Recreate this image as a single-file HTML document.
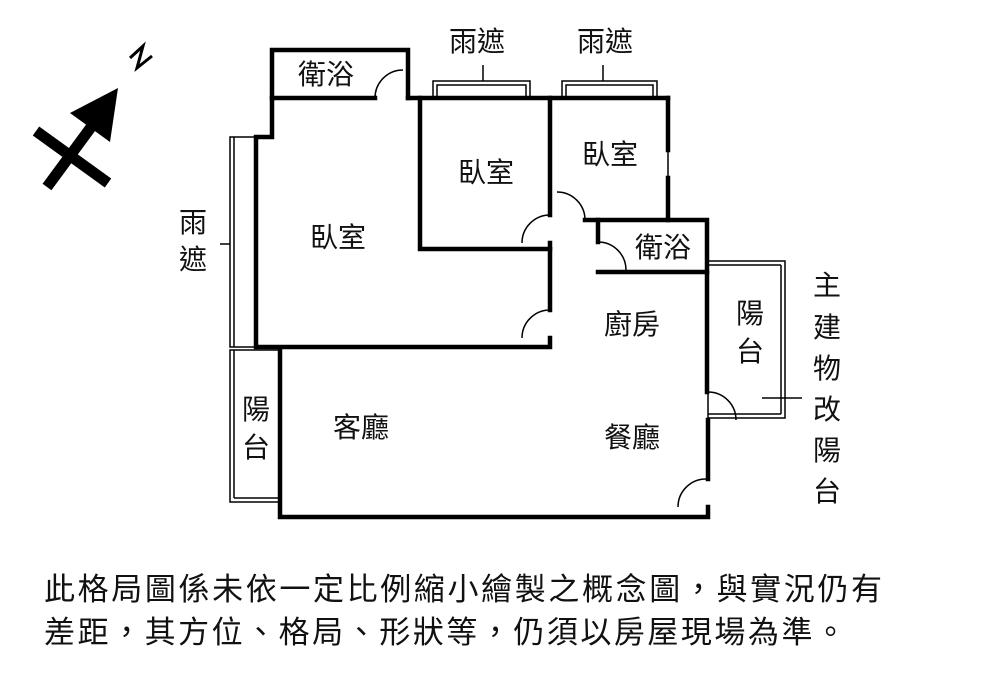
<!DOCTYPE html>
<html><head><meta charset="utf-8"><style>
html,body{margin:0;padding:0;background:#fff;}
svg{display:block;}
text{font-family:"Liberation Sans","Noto Sans CJK TC",sans-serif;fill:#111;}
</style></head><body>
<svg width="1000" height="698" viewBox="0 0 1000 698" xmlns="http://www.w3.org/2000/svg">
<rect width="1000" height="698" fill="#fff"/>
<g stroke="#000" fill="#000">
<line x1="47" y1="187" x2="100" y2="115" stroke-width="11"/>
<polygon points="118,88 70,113 110,142" stroke="none"/>
<line x1="36" y1="131" x2="108" y2="183" stroke-width="11"/>
<polyline points="130,58 143,46 137,68 152,56" fill="none" stroke-width="3"/>
</g>
<g stroke="#000" stroke-width="1.5" fill="none">
<rect x="433" y="81" width="97" height="17"/>
<rect x="437" y="85" width="89" height="13"/>
<line x1="483" y1="65" x2="483" y2="81"/>
<rect x="562" y="81" width="95" height="17"/>
<rect x="566" y="85" width="87" height="13"/>
<line x1="603" y1="65" x2="603" y2="81"/>
<rect x="230" y="137" width="25" height="210"/>
<line x1="234" y1="137" x2="234" y2="347"/>
<line x1="220" y1="244" x2="230" y2="244"/>
<rect x="230" y="350" width="50" height="152"/>
<line x1="234" y1="350" x2="234" y2="498"/><line x1="234" y1="498" x2="280" y2="498"/>
<rect x="708" y="261" width="77" height="157"/>
<line x1="708" y1="265" x2="781" y2="265"/><line x1="781" y1="265" x2="781" y2="414"/><line x1="781" y1="414" x2="708" y2="414"/>
<line x1="762" y1="398" x2="802" y2="398"/>
<line x1="255" y1="160" x2="255" y2="320"/>
<line x1="281" y1="380" x2="281" y2="480"/>
<line x1="668" y1="150" x2="668" y2="178"/>
<path d="M375,98 A28,28 0 0 1 403,70"/>
<path d="M522,243 A28,28 0 0 1 550,215"/>
<path d="M522,338 A28,28 0 0 1 550,310"/>
<path d="M557,192 A28,28 0 0 1 585,220"/>
<path d="M598,242 A28,28 0 0 1 626,270"/>
<path d="M708,392 A28,28 0 0 1 736,420"/>
<path d="M678,507 A28,28 0 0 1 706,479"/>
</g>
<g stroke="#000" stroke-width="4.5" fill="none" stroke-linecap="square">
<polyline points="272,98 272,50 408,50 408,98"/>
<polyline points="375,98 272,98 272,137 256,137 256,347 550,347 550,338"/>
<line x1="408" y1="98" x2="668" y2="98"/>
<polyline points="420,98 420,249 550,249"/>
<line x1="550" y1="98" x2="550" y2="215"/>
<line x1="550" y1="243" x2="550" y2="310"/>
<polyline points="668,98 668,150"/><polyline points="668,178 668,220"/>
<polyline points="585,220 707,220 707,392"/>
<polyline points="598,220 598,242"/>
<polyline points="598,272 707,272"/>
<polyline points="708,420 708,479"/>
<polyline points="708,507 708,517 280,517 280,349"/>
</g>
<g font-size="28" text-anchor="middle">
<text x="477" y="51">雨遮</text>
<text x="605" y="51">雨遮</text>
<text x="326" y="84">衛浴</text>
<text x="486" y="182">臥室</text>
<text x="610" y="164">臥室</text>
<text x="338" y="247">臥室</text>
<text x="663" y="257">衛浴</text>
<text x="632" y="334">廚房</text>
<text x="361" y="437">客廳</text>
<text x="632" y="447">餐廳</text>
<text x="193" y="232">雨</text><text x="193" y="269">遮</text>
<text x="256" y="419">陽</text><text x="256" y="457">台</text>
<text x="750" y="323">陽</text><text x="750" y="361">台</text>
<text x="827" y="295">主</text><text x="827" y="337">建</text><text x="827" y="378">物</text><text x="827" y="419">改</text><text x="827" y="460">陽</text><text x="827" y="501">台</text>
</g>
<text x="44" y="600" font-size="31" textLength="838" lengthAdjust="spacing">此格局圖係未依一定比例縮小繪製之概念圖，與實況仍有</text>
<text x="44" y="643" font-size="31" textLength="802" lengthAdjust="spacing">差距，其方位、格局、形狀等，仍須以房屋現場為準。</text>
</svg>
</body></html>
